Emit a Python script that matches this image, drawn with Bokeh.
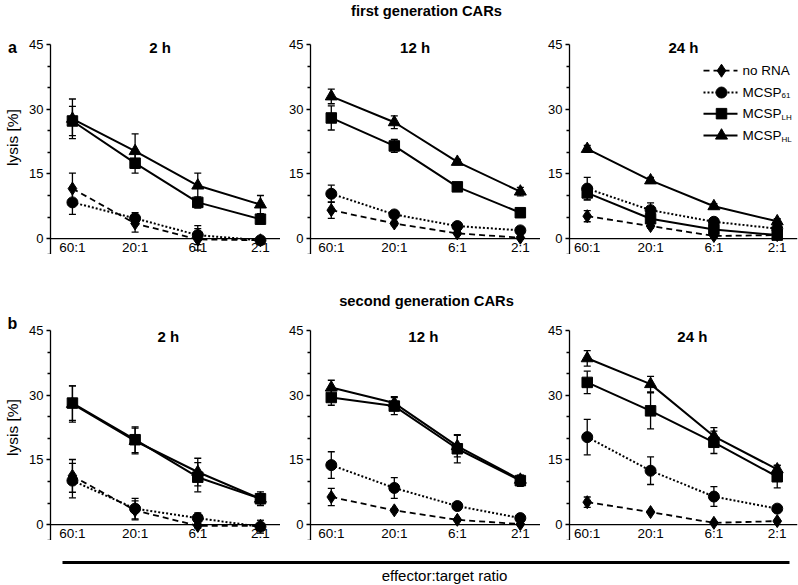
import numpy as np
from bokeh.plotting import figure
from bokeh.layouts import column, row
from bokeh.models import Range1d, FixedTicker, Span, Label, Whisker, ColumnDataSource, TeeHead
from bokeh.core.properties import value
from bokeh.embed import file_html
from bokeh.resources import INLINE

FONT = "Liberation Sans"

# ---------------- data ----------------
ratios = ["60:1", "20:1", "6:1", "2:1"]
hours = ["2 h", "12 h", "24 h"]
row_titles = ["first generation CARs", "second generation CARs"]
row_letters = ["a", "b"]
legend_labels = [("no RNA", ""), ("MCSP", "61"), ("MCSP", "LH"), ("MCSP", "HL")]
x_title = "effector:target ratio"
y_title = "lysis [%]"
y_ticks = [0, 15, 30, 45]
y_minor = [5, 10, 20, 25, 35, 40]

# first generation CARs
a2_norna = [11.6, 3.5, -0.2, -0.4]; a2_norna_err = [3.6, 2.0, 2.5, 0.8]
a2_m61 = [8.4, 4.7, 0.8, -0.4];     a2_m61_err = [2.8, 1.3, 2.2, 0.6]
a2_lh = [27.3, 17.5, 8.4, 4.5];     a2_lh_err = [3.4, 2.3, 1.3, 1.0]
a2_hl = [27.8, 20.3, 12.3, 7.9];    a2_hl_err = [4.6, 4.0, 2.9, 2.1]

a12_norna = [6.6, 3.5, 1.2, 0.2];   a12_norna_err = [1.9, 0.5, 0.4, 0.3]
a12_m61 = [10.4, 5.6, 2.9, 1.9];    a12_m61_err = [2.0, 0.7, 0.5, 0.4]
a12_lh = [28.0, 21.5, 12.0, 6.0];   a12_lh_err = [2.8, 1.5, 0.9, 0.5]
a12_hl = [33.0, 27.0, 17.8, 10.9];  a12_hl_err = [1.7, 1.5, 0.6, 1.0]

a24_norna = [5.2, 2.9, 0.6, 0.8];   a24_norna_err = [1.3, 0.5, 0.3, 0.3]
a24_m61 = [11.6, 6.6, 3.9, 2.3];    a24_m61_err = [2.6, 1.7, 0.8, 0.5]
a24_lh = [10.6, 4.6, 2.1, 0.8];     a24_lh_err = [1.6, 1.5, 0.8, 0.4]
a24_hl = [20.8, 13.5, 7.5, 4.0];    a24_hl_err = [0.8, 0.7, 0.6, 0.6]

# second generation CARs
b2_norna = [11.3, 3.3, -0.3, -0.3]; b2_norna_err = [3.8, 2.2, 0.5, 0.5]
b2_m61 = [10.2, 3.7, 1.5, -0.5];    b2_m61_err = [4.0, 2.4, 1.2, 1.5]
b2_lh = [28.2, 19.7, 11.0, 6.0];    b2_lh_err = [4.0, 3.0, 3.4, 1.6]
b2_hl = [28.0, 19.4, 12.2, 6.0];    b2_hl_err = [4.2, 3.0, 3.2, 1.2]

b12_norna = [6.4, 3.3, 1.1, 0.1];   b12_norna_err = [2.0, 0.4, 0.3, 0.2]
b12_m61 = [13.8, 8.5, 4.3, 1.5];    b12_m61_err = [3.1, 2.4, 0.5, 0.4]
b12_lh = [29.5, 27.5, 17.6, 10.2];  b12_lh_err = [1.8, 2.0, 3.3, 1.3]
b12_hl = [31.8, 28.2, 18.2, 10.4];  b12_hl_err = [1.7, 1.5, 2.5, 1.0]

b24_norna = [5.2, 2.9, 0.4, 0.8];   b24_norna_err = [1.2, 0.3, 0.2, 0.2]
b24_m61 = [20.3, 12.5, 6.5, 3.7];   b24_m61_err = [4.1, 3.2, 2.3, 0.5]
b24_lh = [33.0, 26.4, 19.1, 11.1];  b24_lh_err = [2.6, 4.2, 2.6, 2.6]
b24_hl = [38.6, 32.6, 20.5, 12.8];  b24_hl_err = [1.8, 1.8, 2.0, 1.0]

panels = [
    [
        ([a2_norna, a2_m61, a2_lh, a2_hl], [a2_norna_err, a2_m61_err, a2_lh_err, a2_hl_err]),
        ([a12_norna, a12_m61, a12_lh, a12_hl], [a12_norna_err, a12_m61_err, a12_lh_err, a12_hl_err]),
        ([a24_norna, a24_m61, a24_lh, a24_hl], [a24_norna_err, a24_m61_err, a24_lh_err, a24_hl_err]),
    ],
    [
        ([b2_norna, b2_m61, b2_lh, b2_hl], [b2_norna_err, b2_m61_err, b2_lh_err, b2_hl_err]),
        ([b12_norna, b12_m61, b12_lh, b12_hl], [b12_norna_err, b12_m61_err, b12_lh_err, b12_hl_err]),
        ([b24_norna, b24_m61, b24_lh, b24_hl], [b24_norna_err, b24_m61_err, b24_lh_err, b24_hl_err]),
    ],
]

# ---------------- styling / layout ----------------
W, H = 798, 585
STRIP = 24
INNER = W - STRIP
YMIN, YAX, YMAX = -3.7, 45, 49
FH = 227
STYLES = [
    dict(marker="diamond", size=13, dash="6 4", lw=1.8),
    dict(marker="circle", size=11, dash="2 2", lw=2.0),
    dict(marker="square", size=10.5, dash="solid", lw=2.0),
    dict(marker="triangle", size=12, dash="solid", lw=2.0),
]
# (left border, frame width, right border, x-range)
GEOM = [
    (26, 230, 0, (-0.35, 3.32)),
    (30, 230, 0, (-0.33, 3.32)),
    (29, 228, 1, (-0.28, 3.32)),
]
TITLE_X = [[1.4, 1.33, 1.52], [1.53, 1.46, 1.66]]
TITLE_Y = [44.3, 43.7]


def make_panel(r, c):
    left, fw, right, xr = GEOM[c]
    means, errs = panels[r][c]
    p = figure(width=left + fw + right, height=FH,
               x_range=Range1d(*xr), y_range=Range1d(YMIN, YMAX),
               output_backend="svg", toolbar_location=None, x_axis_location=None,
               min_border_left=left, min_border_right=right, min_border_top=0,
               min_border_bottom=0)
    p.outline_line_color = None
    p.grid.visible = False
    p.background_fill_color = "white"
    p.border_fill_color = "white"
    ax = p.yaxis[0]
    ax.bounds = (YMIN, YAX)
    ax.ticker = FixedTicker(ticks=y_ticks, minor_ticks=y_minor + [YMIN])
    ax.axis_line_width = 1.3
    ax.axis_line_color = "black"
    ax.major_tick_line_width = 1.3
    ax.minor_tick_line_width = 1.3
    ax.major_tick_line_color = "black"
    ax.minor_tick_line_color = "black"
    ax.major_tick_out = 4
    ax.major_tick_in = 0
    ax.minor_tick_out = 3
    ax.minor_tick_in = 0
    ax.major_label_standoff = 3
    ax.major_label_text_font = FONT
    ax.major_label_text_font_size = "13px"
    ax.major_label_text_color = "black"

    p.add_layout(Span(location=0, dimension="width", line_color="black", line_width=1.3))

    idx = list(range(len(ratios)))
    for s, (m, e) in enumerate(zip(means, errs)):
        st = STYLES[s]
        p.line(idx, m, line_color="black", line_width=st["lw"], line_dash=st["dash"])
        src = ColumnDataSource(dict(x=idx,
                                    upper=[a + b for a, b in zip(m, e)],
                                    lower=[a - b for a, b in zip(m, e)]))
        p.add_layout(Whisker(source=src, base="x", upper="upper", lower="lower",
                             line_color="black", line_width=1.3,
                             upper_head=TeeHead(size=7, line_color="black", line_width=1.3),
                             lower_head=TeeHead(size=7, line_color="black", line_width=1.3)))
        p.scatter(idx, m, marker=st["marker"], size=st["size"],
                  fill_color="black", line_color="black")

    p.text(x=idx, y=[-2.1] * len(idx), text=ratios, text_align="center",
           text_baseline="middle", text_font=value(FONT), text_font_size="13.5px",
           text_color="black")

    p.add_layout(Label(x=TITLE_X[r][c], y=TITLE_Y[r], text=hours[c], text_align="center",
                       text_baseline="middle", text_font=FONT, text_font_size="15px",
                       text_font_style="bold", text_color="black"))

    if r == 0 and c == 2:
        span = xr[1] - xr[0]
        def px(rel):
            return xr[0] + rel * span / fw
        ys = [38.97, 33.9, 29.0, 23.9]
        for s, ((lab, sub), yv) in enumerate(zip(legend_labels, ys)):
            st = STYLES[s]
            p.line([px(134), px(168)], [yv, yv], line_color="black", line_width=st["lw"],
                   line_dash=st["dash"])
            p.scatter([px(152)], [yv], marker=st["marker"], size=st["size"],
                      fill_color="black", line_color="black")
            p.add_layout(Label(x=173, x_units="screen", y=yv, text=lab, text_align="left",
                               text_baseline="middle", text_font=FONT,
                               text_font_size="13.5px", text_color="black"))
            if sub:
                p.add_layout(Label(x=212, x_units="screen", y=yv - 0.8, text=sub,
                                   text_align="left", text_baseline="middle", text_font=FONT,
                                   text_font_size="8px", text_color="black"))
    return p


def blank_fig(w, h):
    p = figure(width=w, height=h, x_range=Range1d(0, w), y_range=Range1d(h, 0),
               output_backend="svg", toolbar_location=None, x_axis_location=None,
               y_axis_location=None, min_border=0)
    p.outline_line_color = None
    p.grid.visible = False
    return p


def add_text(p, x, y, txt, size, bold=False, angle=0.0):
    p.text(x=[x], y=[y], text=[txt], text_align="center", text_baseline="middle",
           angle=angle, text_font=value(FONT), text_font_size=size,
           text_font_style="bold" if bold else "normal", text_color="black")


# left strip with panel letters and y-axis titles
strip = blank_fig(STRIP, H)
strip.text(x=[12, 12], y=[47, 323], text=row_letters, text_align="center",
           text_baseline="alphabetic", text_font=value(FONT), text_font_size="16px",
           text_font_style="bold", text_color="black")
add_text(strip, 12, 137, y_title, "15.5px", angle=np.pi / 2)
add_text(strip, 12, 427, y_title, "15.5px", angle=np.pi / 2)

t1 = blank_fig(INNER, 27)
add_text(t1, 402, 10, row_titles[0], "14.7px", bold=True)
row1 = row(*[make_panel(0, c) for c in range(3)])
t2 = blank_fig(INNER, 59)
add_text(t2, 402, 46, row_titles[1], "14.7px", bold=True)
row2 = row(*[make_panel(1, c) for c in range(3)])
foot = blank_fig(INNER, H - 27 - FH - 59 - FH)
foot.segment(x0=[38], y0=[22], x1=[765], y1=[22], line_color="black", line_width=3)
add_text(foot, 420, 35, x_title, "15px")

layout = row(strip, column(t1, row1, t2, row2, foot))
open("out.html", "w").write(file_html(layout, INLINE))
